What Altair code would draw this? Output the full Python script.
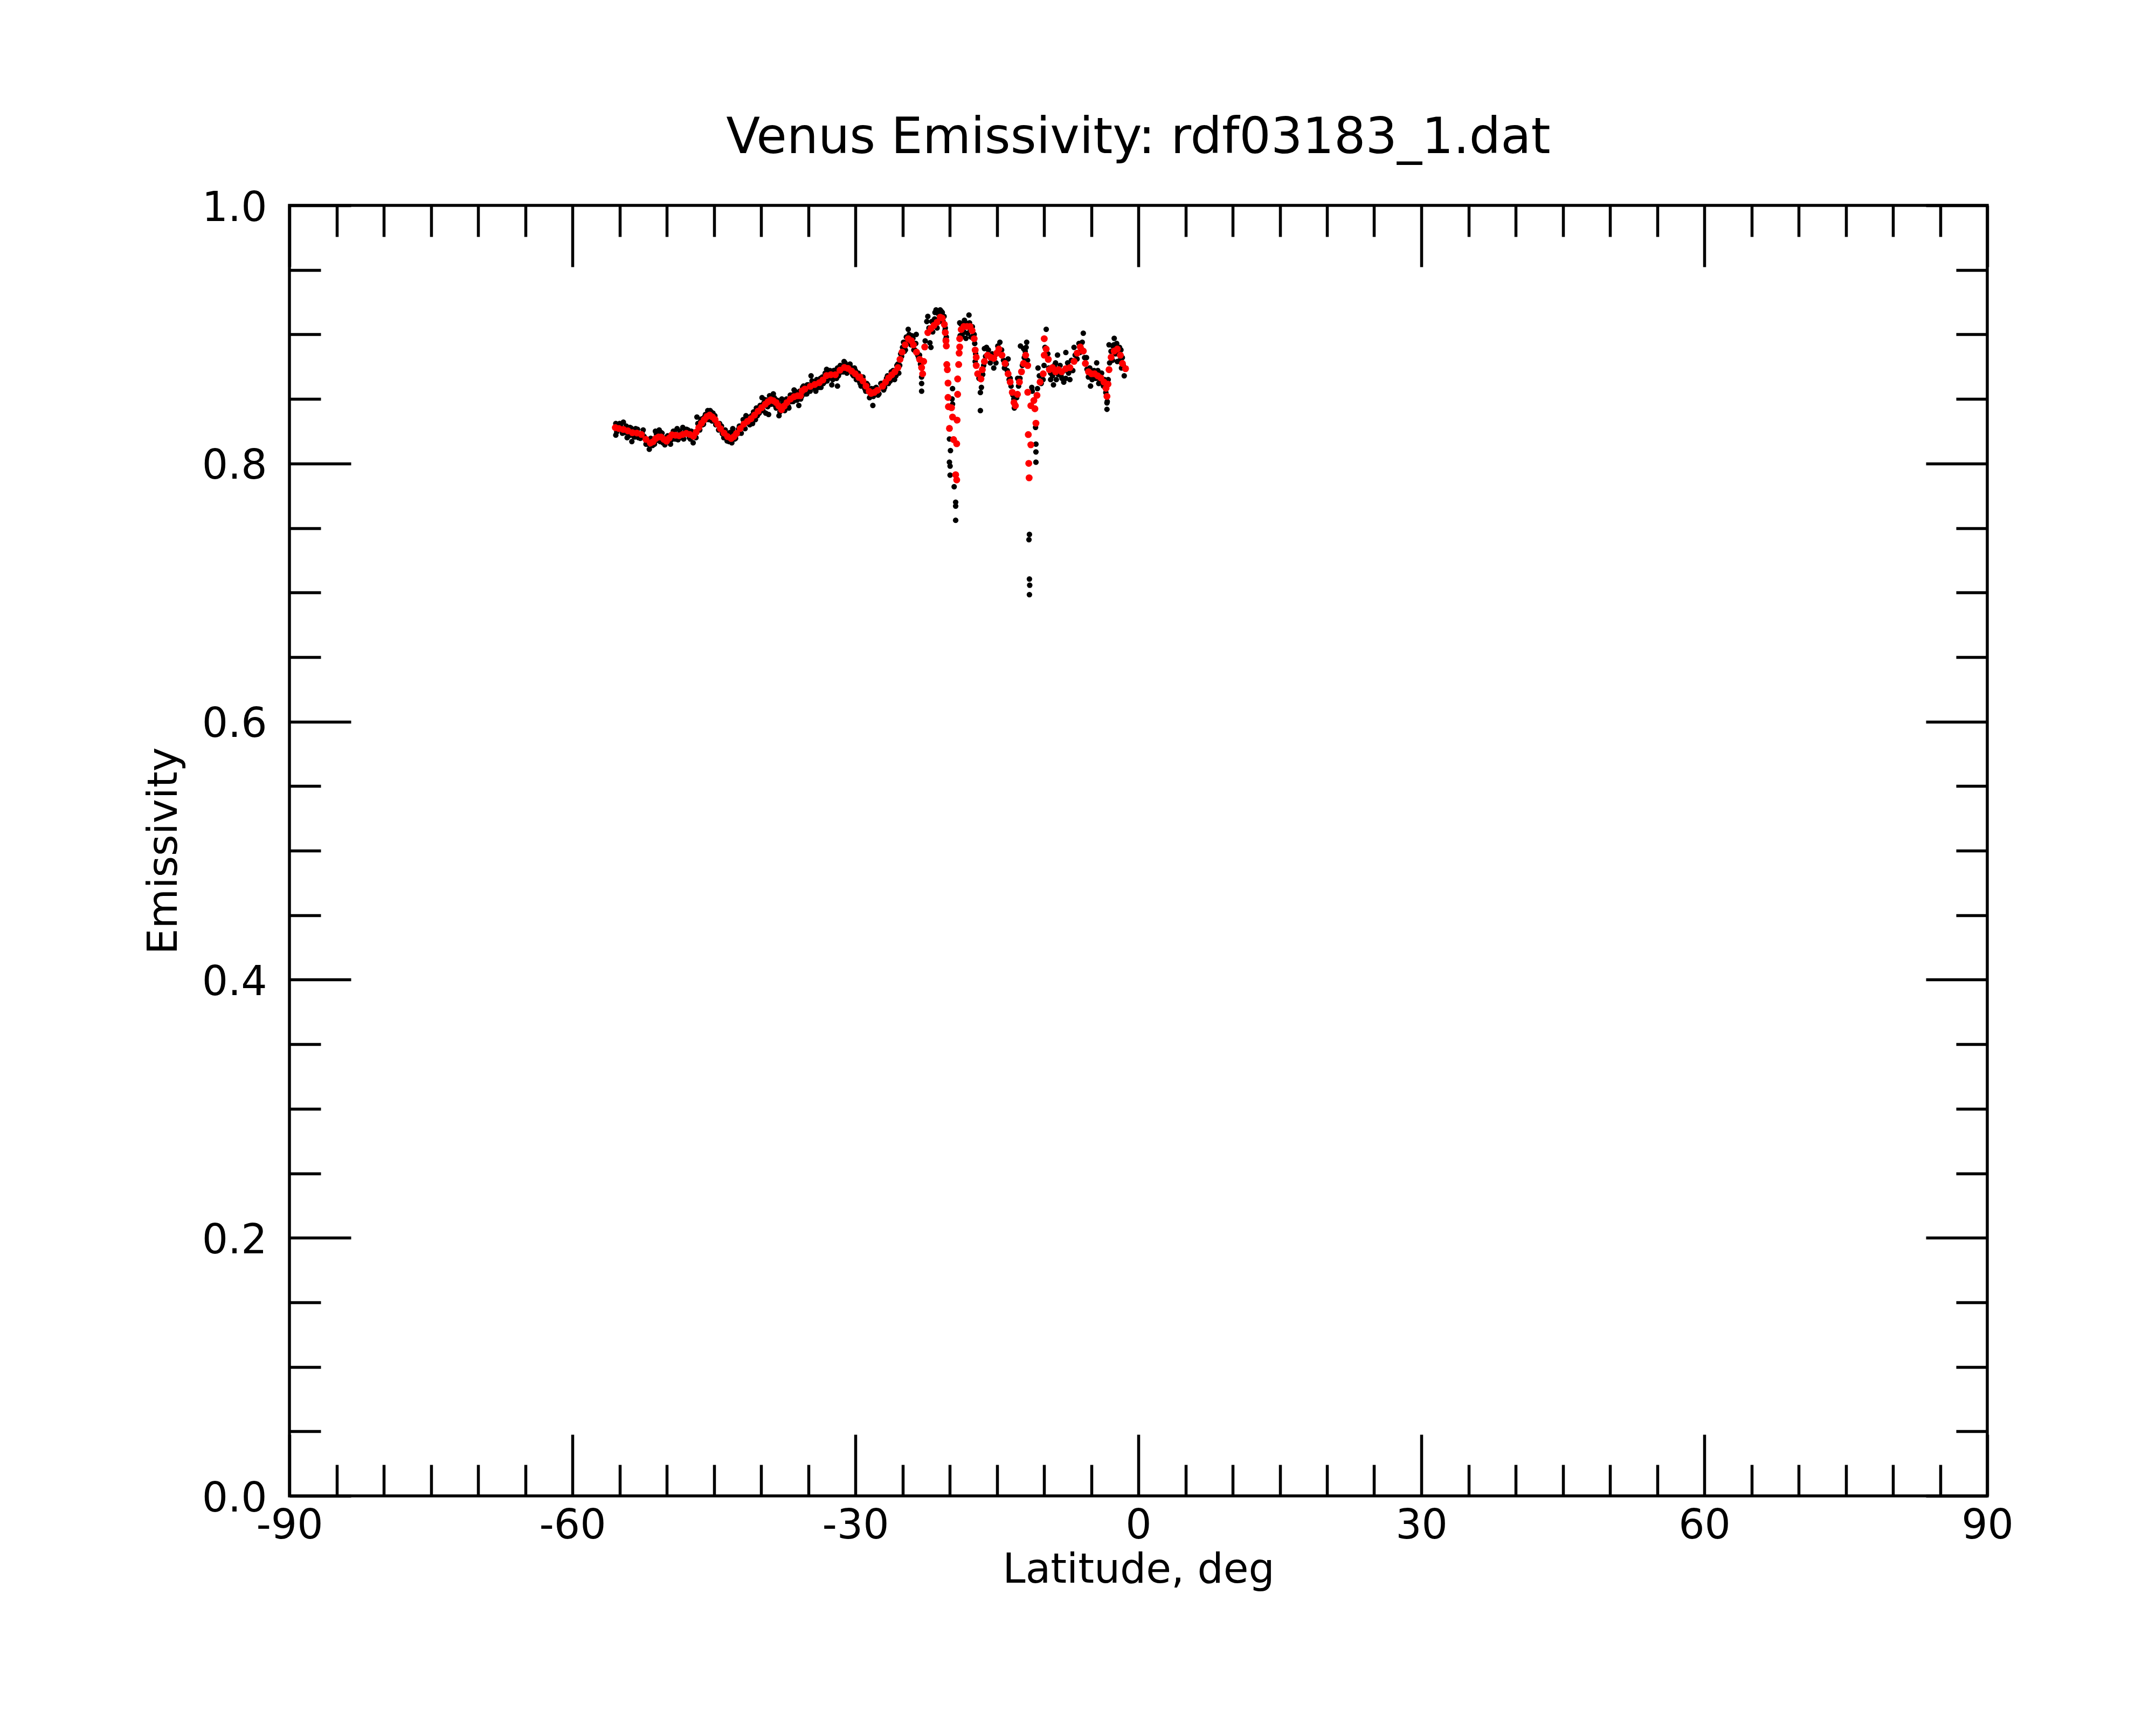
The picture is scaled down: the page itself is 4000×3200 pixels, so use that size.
import altair as alt
import pandas as pd

# ---- data ----
red_lat = [-55.45, -55.07, -54.60, -54.12, -53.64, -53.17, -52.69, -52.21, -51.74, -51.45,
           -51.17, -50.88, -50.60, -50.31, -50.02, -49.74, -49.45, -49.07, -48.69, -48.31,
           -47.93, -47.55, -47.17, -46.88, -46.60, -46.31, -46.02, -45.74, -45.45, -45.17,
           -44.88, -44.60, -44.31, -43.93, -43.55, -43.17, -42.88, -42.60, -42.21, -41.83,
           -41.45, -41.07, -40.69, -40.31, -39.93, -39.55, -39.26, -38.98, -38.69, -38.40,
           -38.12, -37.83, -37.55, -37.26, -36.88, -36.50, -36.12, -35.83, -35.64, -35.36,
           -34.78, -34.31, -33.83, -33.45, -33.07, -32.60, -32.12, -31.64, -31.17, -30.79,
           -30.40, -30.02, -29.64, -29.53, -29.20, -28.87, -28.54, -28.33, -28.00, -27.67,
           -27.12, -26.80, -26.47, -26.14, -25.81, -25.49, -25.27, -25.05, -24.72, -24.40,
           -24.07, -23.85, -23.52, -23.19, -22.98, -22.87, -22.76, -22.65, -22.32, -21.99,
           -21.67, -21.34, -21.01, -20.79, -20.57, -20.47, -20.40, -20.36, -20.31, -20.25,
           -20.18, -20.18, -20.14, -19.81, -19.70, -20.03, -19.59, -19.26, -19.37, -19.26,
           -19.22, -19.16, -19.16, -19.05, -19.00, -18.94, -18.94, -18.78, -18.50, -18.17,
           -17.85, -17.63, -17.41, -17.30, -17.19, -17.19, -17.04, -16.69, -16.54, -16.32,
           -15.99, -15.66, -15.33, -15.01, -14.79, -14.46, -14.13, -13.81, -13.59, -13.37,
           -13.19, -13.04, -12.82, -12.61, -12.39, -12.17, -11.95, -11.73, -11.73, -11.40,
           -11.08, -10.97, -10.86, -11.67, -11.40, -11.62, -11.58, -10.75, -10.42, -10.09,
           -9.98, -9.98, -9.77, -9.55, -9.44, -9.11, -8.78, -8.46, -8.13, -7.69,
           -7.26, -6.82, -6.49, -6.16, -5.84, -5.62, -5.29, -4.96, -4.64, -4.31,
           -3.98, -3.65, -3.43, -3.33, -3.22, -3.11, -2.89, -2.56, -2.23, -1.91,
           -1.69, -1.36]
red_emis = [0.8278, 0.8271, 0.8264, 0.8253, 0.8239, 0.8236, 0.8225, 0.8187, 0.8159, 0.8169,
            0.8194, 0.8205, 0.8205, 0.8187, 0.8173, 0.8197, 0.8222, 0.8219, 0.8215, 0.8225,
            0.8233, 0.8225, 0.8211, 0.8243, 0.8278, 0.8312, 0.8340, 0.8364, 0.8375, 0.8361,
            0.8340, 0.8305, 0.8270, 0.8236, 0.8208, 0.8194, 0.8208, 0.8233, 0.8271, 0.8305,
            0.8326, 0.8347, 0.8375, 0.8406, 0.8433, 0.8459, 0.8479, 0.8493, 0.8486, 0.8472,
            0.8445, 0.8417, 0.8445, 0.8472, 0.8500, 0.8517, 0.8525, 0.8525, 0.8563, 0.8577,
            0.8598, 0.8612, 0.8626, 0.8647, 0.8681, 0.8688, 0.8688, 0.8723, 0.8744, 0.8737,
            0.8716, 0.8695, 0.8667, 0.8671, 0.8639, 0.8599, 0.8559, 0.8543, 0.8551, 0.8567,
            0.8599, 0.8631, 0.8663, 0.8687, 0.8711, 0.8743, 0.8807, 0.8863, 0.8919, 0.8967,
            0.8951, 0.8919, 0.8863, 0.8807, 0.8743, 0.8695, 0.8791, 0.8903, 0.9014, 0.9046,
            0.9070, 0.9094, 0.9134, 0.9126, 0.9078, 0.9014, 0.8951, 0.8911, 0.8767, 0.8727,
            0.8623, 0.8512, 0.8440, 0.8432, 0.8360, 0.8272, 0.8185, 0.8153, 0.7913, 0.7873,
            0.8336, 0.8536, 0.8655, 0.8767, 0.8855, 0.8903, 0.8967, 0.9038, 0.9062, 0.9062,
            0.9062, 0.9030, 0.8967, 0.8879, 0.8823, 0.8759, 0.8695, 0.8655, 0.8727, 0.8791,
            0.8839, 0.8823, 0.8815, 0.8855, 0.8887, 0.8839, 0.8775, 0.8695, 0.8631, 0.8551,
            0.8472, 0.8448, 0.8536, 0.8631, 0.8711, 0.8775, 0.8839, 0.8759, 0.8552, 0.8448,
            0.8488, 0.8424, 0.8312, 0.8224, 0.8145, 0.8001, 0.7889, 0.8528, 0.8631, 0.8695,
            0.8839, 0.8967, 0.8887, 0.8807, 0.8727, 0.8743, 0.8711, 0.8727, 0.8711, 0.8735,
            0.8743, 0.8791, 0.8855, 0.8903, 0.8871, 0.8775, 0.8711, 0.8695, 0.8695, 0.8679,
            0.8663, 0.8631, 0.8583, 0.8520, 0.8615, 0.8727, 0.8823, 0.8871, 0.8887, 0.8839,
            0.8775, 0.8735]

black_lat = [-55.4, -54.6, -55.4, -54.2, -53.7, -53.3, -52.6, -52.2, -51.85, -51.2,
             -50.8, -50.4, -49.6, -48.9, -48.3, -47.75, -47.2, -46.8, -46.2, -45.65,
             -45.1, -44.7, -44.2, -43.95, -43.4, -42.8, -43.0, -41.6, -40.9, -40.5,
             -39.9, -39.5, -39.2, -38.7, -38.1, -37.8, -37.05, -36.5, -36.0, -35.15,
             -34.7, -34.2, -33.65, -33.05, -32.5, -31.9, -31.9, -31.2, -30.57, -29.8,
             -29.4,
             -55.2, -54.9, -54.4, -53.9, -53.5, -53.0, -52.4, -51.9, -51.5, -51.0,
             -50.6, -50.1, -49.8, -49.3, -49.1, -48.5, -48.0, -47.6, -47.4, -47.0,
             -46.5, -46.4, -46.0, -45.8, -45.3, -45.0, -44.5, -44.0, -43.7, -43.2,
             -42.5, -42.3, -42.0, -41.8, -41.3, -41.0, -40.7, -40.2, -40.0, -39.7,
             -39.4, -39.0, -38.8, -38.5, -38.3, -37.9, -37.6, -37.4, -37.2, -36.8,
             -36.7, -36.3, -36.1, -35.8, -35.6, -35.4, -35.0, -34.9, -34.5, -34.4,
             -34.0, -33.8, -33.5, -33.3, -32.9, -32.8, -32.3, -32.0, -31.7, -31.5,
             -31.0, -30.8, -30.4, -30.2, -30.0, -29.6, -29.3, -29.0, -28.8,
             -28.15, -28.4, -28.0, -27.6, -27.3, -27.0, -26.7, -26.5, -26.2, -25.85,
             -25.6, -25.4, -25.2, -25.0, -24.8, -24.4, -24.6, -24.2, -23.9, -23.55,
             -23.7, -23.3, -23.1, -22.98, -22.98, -22.98, -22.32, -22.43, -22.10, -21.99,
             -21.45, -21.01, -21.34, -21.56, -20.79, -20.47, -20.36,
             -19.70, -19.75, -19.70, -20.03, -19.92, -20.03, -19.96, -19.96, -19.53, -19.37,
             -19.37, -19.37,
             -18.94, -18.44, -17.96, -18.28, -18.61, -17.74, -17.41, -16.75, -16.75, -16.64,
             -17.30, -16.10, -16.32, -15.55, -15.33, -14.68, -13.81, -13.59, -13.15, -12.50,
             -11.84, -12.17, -11.30, -11.25, -10.86, -10.86, -10.86, -10.90,
             -11.55, -11.60, -11.55, -11.52, -11.55,
             -9.77, -10.64, -10.42, -9.00, -8.57, -7.69, -6.82, -5.84, -7.91, -7.26,
             -8.78, -6.05, -5.07, -4.42, -4.20, -3.54, -3.33, -3.33, -2.56, -3.11,
             -1.79, -2.00, -2.23, -14.2, -15.0, -13.0, -12.8, -9.3, -8.2, -5.5,
             -4.8, -3.8, -2.7, -1.5,
             -55.3, -55.0, -54.7, -54.3, -54.0, -53.8, -53.4, -53.1, -52.8, -52.5,
             -52.0, -51.7, -51.3, -51.1, -50.7, -50.5, -50.2, -49.9, -49.5, -49.2,
             -48.8, -48.6, -48.2, -47.9, -47.5, -47.3, -46.9, -46.7, -46.3, -46.1,
             -45.9, -45.5, -45.4, -45.2, -44.9, -44.8, -44.4, -44.1, -43.8, -43.6,
             -43.3, -43.1, -42.9, -42.7, -42.4, -42.1, -41.9, -41.7, -41.4, -41.2,
             -40.8, -40.6, -40.4, -40.1, -39.8, -39.6, -39.3, -39.1, -38.9, -38.6,
             -38.4, -38.2, -38.0, -37.7, -37.5, -37.3, -37.1, -36.9, -36.6, -36.4,
             -36.2, -35.9, -35.7, -35.5, -35.3, -35.1, -34.8, -34.6, -34.3, -34.1,
             -33.9, -33.7, -33.4, -33.2, -33.0, -32.7, -32.4, -32.2, -31.8, -31.6,
             -31.3, -31.1, -30.9, -30.6, -30.3, -30.1, -29.9, -29.7, -29.5, -29.2,
             -28.9, -28.7, -28.5, -28.3, -28.1, -27.8, -27.5, -27.2, -26.9, -26.6,
             -26.3, -26.0, -25.7, -25.5, -25.3, -25.1, -24.9, -24.7, -24.5, -24.3,
             -24.1, -24.0, -23.8, -23.6, -23.4, -23.2,
             -22.6, -22.2, -21.9, -21.8, -21.6, -21.2, -21.1, -20.9, -20.7, -20.6,
             -20.5, -20.45,
             -18.9, -18.8, -18.7, -18.5, -18.3, -18.1, -17.9, -17.8, -17.6, -17.5,
             -17.35, -17.25,
             -16.9, -16.5, -16.4, -16.2, -15.9, -15.7, -15.5, -15.2, -15.1, -14.9,
             -14.8, -14.5, -14.3, -14.0, -13.9, -13.7, -13.5, -13.3, -13.2, -13.1,
             -12.9, -12.7, -12.55, -12.3, -12.1, -12.0, -11.9, -11.75,
             -10.7, -10.5, -10.3, -10.1, -10.0, -9.9, -9.6, -9.5, -9.3, -9.1,
             -8.9, -8.7, -8.5, -8.3, -8.1, -7.9, -7.7, -7.5, -7.4, -7.1,
             -6.95, -6.7, -6.5, -6.3, -6.2, -5.95, -5.7, -5.45, -5.3, -5.15,
             -4.9, -4.7, -4.5, -4.3, -4.1, -3.9, -3.7, -3.6, -3.45, -3.3,
             -3.2, -3.05, -2.9, -2.75, -2.6, -2.4, -2.3, -2.1, -1.95, -1.85,
             -1.7, -1.6]
black_emis = [0.831, 0.832, 0.822, 0.820, 0.817, 0.827, 0.823, 0.815, 0.811, 0.825,
              0.826, 0.816, 0.815, 0.827, 0.828, 0.826, 0.816, 0.836, 0.830, 0.841,
              0.839, 0.831, 0.829, 0.820, 0.817, 0.819, 0.827, 0.837, 0.831, 0.843,
              0.851, 0.839, 0.838, 0.854, 0.837, 0.850, 0.843, 0.857, 0.845, 0.854,
              0.868, 0.856, 0.859, 0.873, 0.861, 0.860, 0.874, 0.879, 0.877, 0.870,
              0.860,
              0.826, 0.829, 0.824, 0.828, 0.821, 0.820, 0.821, 0.818, 0.814, 0.818,
              0.824, 0.820, 0.819, 0.825, 0.819, 0.820, 0.825, 0.820, 0.825, 0.823,
              0.826, 0.833, 0.836, 0.834, 0.840, 0.836, 0.826, 0.825, 0.823, 0.822,
              0.823, 0.829, 0.828, 0.833, 0.835, 0.837, 0.835, 0.839, 0.845, 0.847,
              0.849, 0.846, 0.852, 0.845, 0.849, 0.844, 0.848, 0.844, 0.849, 0.848,
              0.853, 0.850, 0.854, 0.850, 0.859, 0.855, 0.861, 0.857, 0.863, 0.859,
              0.864, 0.860, 0.867, 0.863, 0.866, 0.871, 0.872, 0.866, 0.870, 0.875,
              0.872, 0.876, 0.874, 0.868, 0.872, 0.864, 0.866, 0.858, 0.862,
              0.845, 0.852, 0.858, 0.853, 0.862, 0.857, 0.866, 0.862, 0.871, 0.865,
              0.876, 0.870, 0.885, 0.890, 0.887, 0.904, 0.898, 0.893, 0.897, 0.900,
              0.888, 0.882, 0.877, 0.867, 0.862, 0.856, 0.914, 0.910, 0.8935, 0.890,
              0.919, 0.919, 0.905, 0.917, 0.917, 0.905, 0.898,
              0.858, 0.850, 0.846, 0.819, 0.810, 0.801, 0.798, 0.791, 0.782, 0.770,
              0.767, 0.756,
              0.909, 0.911, 0.915, 0.897, 0.901, 0.898, 0.900, 0.855, 0.841, 0.859,
              0.879, 0.890, 0.889, 0.881, 0.874, 0.894, 0.881, 0.866, 0.843, 0.891,
              0.894, 0.889, 0.859, 0.856, 0.815, 0.809, 0.801, 0.828,
              0.745, 0.741, 0.7105, 0.7057, 0.6984,
              0.904, 0.874, 0.863, 0.861, 0.884, 0.886, 0.890, 0.901, 0.863, 0.865,
              0.878, 0.889, 0.860, 0.878, 0.862, 0.860, 0.842, 0.847, 0.897, 0.892,
              0.874, 0.890, 0.879, 0.874, 0.886, 0.852, 0.866, 0.865, 0.868, 0.882,
              0.866, 0.862, 0.891, 0.868,
              0.8245, 0.8310, 0.8235, 0.8290, 0.8215, 0.8275, 0.8205, 0.8265, 0.8195, 0.8260,
              0.8150, 0.8195, 0.8150, 0.8230, 0.8170, 0.8235, 0.8145, 0.8215, 0.8185, 0.8250,
              0.8185, 0.8250, 0.8190, 0.8265, 0.8190, 0.8245, 0.8200, 0.8310, 0.8345, 0.8305,
              0.8380, 0.8340, 0.8410, 0.8330, 0.8370, 0.8300, 0.8310, 0.8230, 0.8260, 0.8175,
              0.8240, 0.8160, 0.8240, 0.8195, 0.8265, 0.8235, 0.8340, 0.8270, 0.8360, 0.8300,
              0.8400, 0.8340, 0.8370, 0.8450, 0.8410, 0.8495, 0.8440, 0.8525, 0.8460, 0.8510,
              0.8430, 0.8480, 0.8400, 0.8460, 0.8410, 0.8500, 0.8440, 0.8530, 0.8480, 0.8560,
              0.8490, 0.8560, 0.8520, 0.8600, 0.8540, 0.8610, 0.8560, 0.8640, 0.8580, 0.8650,
              0.8590, 0.8660, 0.8620, 0.8700, 0.8640, 0.8720, 0.8650, 0.8720, 0.8680, 0.8760,
              0.8710, 0.8780, 0.8700, 0.8750, 0.8690, 0.8740, 0.8650, 0.8700, 0.8620, 0.8670,
              0.8560, 0.8610, 0.8510, 0.8580, 0.8520, 0.8590, 0.8540, 0.8620, 0.8590, 0.8680,
              0.8640, 0.8720, 0.8680, 0.8770, 0.8760, 0.8830, 0.8940, 0.8880, 0.8950, 0.9000,
              0.8920, 0.8990, 0.8880, 0.8930, 0.8840, 0.8840,
              0.8950, 0.9050, 0.9100, 0.9020, 0.9120, 0.9160, 0.9100, 0.9180, 0.9100, 0.9140,
              0.9030, 0.8960,
              0.8990, 0.9080, 0.8990, 0.9020, 0.9090, 0.9010, 0.9090, 0.9030, 0.9060, 0.8990,
              0.8930, 0.8850,
              0.8660, 0.8690, 0.8760, 0.8830, 0.8880, 0.8780, 0.8850, 0.8840, 0.8780, 0.8910,
              0.8860, 0.8880, 0.8800, 0.8770, 0.8720, 0.8650, 0.8600, 0.8530, 0.8500, 0.8460,
              0.8510, 0.8600, 0.8660, 0.8760, 0.8820, 0.8870, 0.8900, 0.8800,
              0.8580, 0.8680, 0.8620, 0.8650, 0.8760, 0.8900, 0.8850, 0.8740, 0.8700, 0.8680,
              0.8760, 0.8650, 0.8690, 0.8760, 0.8660, 0.8720, 0.8660, 0.8780, 0.8700, 0.8800,
              0.8720, 0.8840, 0.8810, 0.8930, 0.8860, 0.8940, 0.8820, 0.8730, 0.8670, 0.8740,
              0.8650, 0.8720, 0.8660, 0.8720, 0.8630, 0.8700, 0.8600, 0.8650, 0.8550, 0.8480,
              0.8650, 0.8780, 0.8870, 0.8800, 0.8920, 0.8850, 0.8930, 0.8850, 0.8800, 0.8880,
              0.8820, 0.8760]

x_major = [-90, -60, -30, 0, 30, 60, 90]
x_minor = [-85, -80, -75, -70, -65, -55, -50, -45, -40, -35, -25, -20, -15, -10, -5,
           5, 10, 15, 20, 25, 35, 40, 45, 50, 55, 65, 70, 75, 80, 85]
y_major = [0.0, 0.2, 0.4, 0.6, 0.8, 1.0]
y_minor = [0.05, 0.1, 0.15, 0.25, 0.3, 0.35, 0.45, 0.5, 0.55, 0.65, 0.7, 0.75, 0.85, 0.9, 0.95]

red_df = pd.DataFrame({"lat": red_lat, "emis": red_emis})
black_df = pd.DataFrame({"lat": black_lat, "emis": black_emis})

W, H = 3150, 2394
MAJ, MIN = 114, 58
TW = 5.5
FONT = "DejaVu Sans"
FS = 76

xscale = alt.Scale(domain=[-90, 90], nice=False, zero=False)
yscale = alt.Scale(domain=[0, 1], nice=False, zero=False)


def tick_axis(orient, values, size):
    return alt.Axis(orient=orient, values=values, offset=-size, tickSize=size,
                    ticks=True, labels=False, domain=False, grid=False,
                    tickColor="black", tickWidth=TW, title=None)


# layer with labels and axis titles (black points)
black = alt.Chart(black_df).mark_circle(size=105, color="#000000", opacity=1).encode(
    x=alt.X("lat:Q", scale=xscale,
            axis=alt.Axis(orient="bottom", values=x_major, ticks=False, tickSize=0,
                          domain=False, grid=False, labelPadding=18, labelFlush=False,
                          labelOverlap=False, labelExpr="'' + datum.value",
                          labelFont=FONT, labelFontSize=FS, labelColor="black",
                          title="Latitude, deg", titleX=W / 2, titleY=160,
                          titleFont=FONT, titleFontSize=FS, titleFontWeight="normal",
                          titleColor="black",
                          titleBaseline="alphabetic", titleAlign="center")),
    y=alt.Y("emis:Q", scale=yscale,
            axis=alt.Axis(orient="left", values=y_major, ticks=False, tickSize=0,
                          domain=False, grid=False, labelPadding=42, labelFlush=False,
                          labelOverlap=False, format=".1f", labelBaseline="middle",
                          labelOffset=5,
                          labelFont=FONT, labelFontSize=FS, labelColor="black",
                          title="Emissivity", titleX=-210, titleY=H / 2, titleAngle=270,
                          titleFont=FONT, titleFontSize=FS, titleFontWeight="normal",
                          titleColor="black",
                          titleBaseline="alphabetic", titleAlign="center")),
)

red = alt.Chart(red_df).mark_circle(size=165, color="#ff0000", opacity=1).encode(
    x=alt.X("lat:Q", scale=xscale, axis=tick_axis("bottom", x_major, MAJ)),
    y=alt.Y("emis:Q", scale=yscale, axis=tick_axis("left", y_major, MAJ)),
)

inv1 = alt.Chart(red_df).mark_circle(size=1, opacity=0).encode(
    x=alt.X("lat:Q", scale=xscale, axis=tick_axis("bottom", x_minor, MIN)),
    y=alt.Y("emis:Q", scale=yscale, axis=tick_axis("left", y_minor, MIN)),
)
inv2 = alt.Chart(red_df).mark_circle(size=1, opacity=0).encode(
    x=alt.X("lat:Q", scale=xscale, axis=tick_axis("top", x_major, MAJ)),
    y=alt.Y("emis:Q", scale=yscale, axis=tick_axis("right", y_major, MAJ)),
)
inv3 = alt.Chart(red_df).mark_circle(size=1, opacity=0).encode(
    x=alt.X("lat:Q", scale=xscale, axis=tick_axis("top", x_minor, MIN)),
    y=alt.Y("emis:Q", scale=yscale, axis=tick_axis("right", y_minor, MIN)),
)

chart = alt.layer(black, red, inv1, inv2, inv3).resolve_axis(
    x="independent", y="independent"
).properties(
    width=W,
    height=H,
    background="white",
    autosize=alt.AutoSizeParams(type="none"),
    padding={"left": 529, "top": 373, "right": 300, "bottom": 400},
    title=alt.TitleParams("Venus Emissivity: rdf03183_1.dat", font=FONT, fontSize=92,
                          fontWeight="normal", color="black", anchor="middle",
                          baseline="alphabetic", offset=-28, frame="group"),
).configure_view(
    stroke="black", strokeWidth=TW
).configure_axis(
    labelFont=FONT, labelFontSize=FS, labelColor="black",
    titleFont=FONT, titleFontSize=FS, titleFontWeight="normal", titleColor="black",
)

chart.save("out.html", embed_options={"renderer": "svg", "actions": False})
